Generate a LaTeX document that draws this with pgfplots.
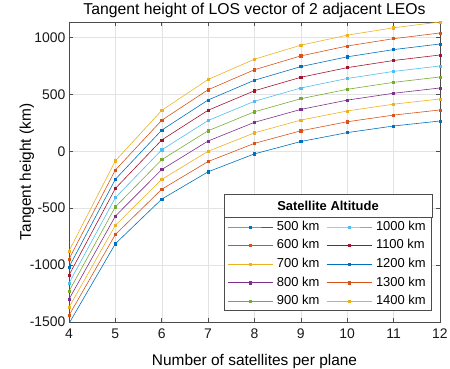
\documentclass[border=0pt]{standalone}
\usepackage{pgfplots}
\pgfplotsset{compat=1.18}
\usepackage{fontspec}
\setmainfont{Liberation Sans}
\usetikzlibrary{calc}
\definecolor{c1}{rgb}{0,0.447,0.741}
\definecolor{c2}{rgb}{0.85,0.325,0.098}
\definecolor{c3}{rgb}{0.929,0.694,0.125}
\definecolor{c4}{rgb}{0.494,0.184,0.556}
\definecolor{c5}{rgb}{0.466,0.674,0.188}
\definecolor{c6}{rgb}{0.301,0.745,0.933}
\definecolor{c7}{rgb}{0.635,0.078,0.184}
\definecolor{axgray}{rgb}{0.3,0.3,0.3}
\begin{document}
\begin{tikzpicture}
\useasboundingbox (-69bp,-47bp) rectangle (381bp,322bp);
\begin{axis}[
  at={(0,0)}, anchor=south west,
  scale only axis, width=371bp, height=300bp,
  xmin=4, xmax=12, ymin=-1500, ymax=1135.3,
  xtick={4,5,...,12}, ytick={-1500,-1000,-500,0,500,1000},
  grid=major, major grid style={gray!22, line width=0.5pt},
  tick align=inside, major tick length=4bp,
  axis line style={axgray, line width=0.7pt},
  tick style={axgray, line width=0.6pt},
  ticklabel style={font=\fontsize{14}{16}\selectfont, text=black!90},
  xticklabel style={yshift=-3bp},
  /pgf/number format/assume math mode=true,
  /pgf/number format/set thousands separator={},
  title={\fontsize{15.8}{18}\selectfont Tangent height of LOS vector of 2 adjacent LEOs},
  title style={at={(axis description cs:0.5,1)}, anchor=base, yshift=2bp, inner sep=0pt},
  xlabel={\fontsize{15.5}{18}\selectfont Number of satellites per plane},
  ylabel={\fontsize{15.5}{18}\selectfont Tangent height (km)},
  xlabel style={at={(axis description cs:0.5,0)}, anchor=base, yshift=-43bp, inner sep=0pt},
  ylabel style={at={(axis description cs:0,0.5)}, anchor=base, yshift=38bp, inner sep=0pt},
  every axis plot/.append style={line width=0.6pt, mark=square*, mark size=1.1bp},
  legend columns=2,
  legend cell align=left,
  legend style={name=leg, at={(rel axis cs:0.9784,0.0367)}, anchor=south east,
    draw=axgray, line width=0.6pt, font=\fontsize{13}{15}\selectfont,
    row sep=0bp, inner xsep=3bp, inner ysep=0bp,
    nodes={text height=9.4bp, text depth=2.8bp, inner ysep=3.2bp, inner xsep=3bp},
    /tikz/every odd column/.append style={column sep=1bp},
    /tikz/every even column/.append style={column sep=4bp}},
  legend image code/.code={\draw[mark repeat=2,mark phase=2] plot coordinates {(0bp,0bp) (22.5bp,0bp) (45bp,0bp)};},
]
\addplot[c1, mark options={fill=c1}] coordinates {(4,-1512.5)(5,-812.2)(6,-420.5)(7,-180.4)(8,-23.0)(9,85.6)(10,163.7)(11,221.7)(12,265.9)};
\addlegendentry{500 km}
\addplot[c6, mark options={fill=c6}, forget plot] coordinates {(4,-1159.0)(5,-407.7)(6,12.5)(7,270.1)(8,439.0)(9,555.6)(10,639.2)(11,701.2)(12,748.9)};
\addlegendimage{c6, mark options={fill=c6}}
\addlegendentry{1000 km}
\addplot[c2, mark options={fill=c2}] coordinates {(4,-1441.8)(5,-731.3)(6,-333.9)(7,-90.3)(8,69.4)(9,179.6)(10,258.8)(11,317.6)(12,362.5)};
\addlegendentry{600 km}
\addplot[c7, mark options={fill=c7}, forget plot] coordinates {(4,-1088.3)(5,-326.8)(6,99.1)(7,360.2)(8,531.4)(9,649.6)(10,734.3)(11,797.1)(12,845.5)};
\addlegendimage{c7, mark options={fill=c7}}
\addlegendentry{1100 km}
\addplot[c3, mark options={fill=c3}] coordinates {(4,-1371.1)(5,-650.4)(6,-247.3)(7,-0.2)(8,161.8)(9,273.6)(10,353.9)(11,413.5)(12,459.1)};
\addlegendentry{700 km}
\addplot[c1, mark options={fill=c1}, forget plot] coordinates {(4,-1017.6)(5,-245.9)(6,185.7)(7,450.3)(8,623.8)(9,743.6)(10,829.4)(11,893.0)(12,942.1)};
\addlegendimage{c1, mark options={fill=c1}}
\addlegendentry{1200 km}
\addplot[c4, mark options={fill=c4}] coordinates {(4,-1300.4)(5,-569.5)(6,-160.7)(7,89.9)(8,254.2)(9,367.6)(10,449.0)(11,509.4)(12,555.7)};
\addlegendentry{800 km}
\addplot[c2, mark options={fill=c2}, forget plot] coordinates {(4,-946.9)(5,-165.0)(6,272.3)(7,540.4)(8,716.2)(9,837.6)(10,924.5)(11,988.9)(12,1038.7)};
\addlegendimage{c2, mark options={fill=c2}}
\addlegendentry{1300 km}
\addplot[c5, mark options={fill=c5}] coordinates {(4,-1229.7)(5,-488.6)(6,-74.1)(7,180.0)(8,346.6)(9,461.6)(10,544.1)(11,605.3)(12,652.3)};
\addlegendentry{900 km}
\addplot[c3, mark options={fill=c3}, forget plot] coordinates {(4,-876.2)(5,-84.1)(6,358.9)(7,630.5)(8,808.6)(9,931.6)(10,1019.6)(11,1084.8)(12,1135.3)};
\addlegendimage{c3, mark options={fill=c3}}
\addlegendentry{1400 km}
\end{axis}
\fill[white] (leg.north west) rectangle ($(leg.north east)+(0,23bp)$);
\draw[axgray, line width=0.6pt] (leg.north west) rectangle ($(leg.north east)+(0,23bp)$);
\node[font=\fontsize{13}{15}\selectfont\bfseries] at ($(leg.north)+(0,11.5bp)$) {Satellite Altitude};
\end{tikzpicture}
\end{document}
